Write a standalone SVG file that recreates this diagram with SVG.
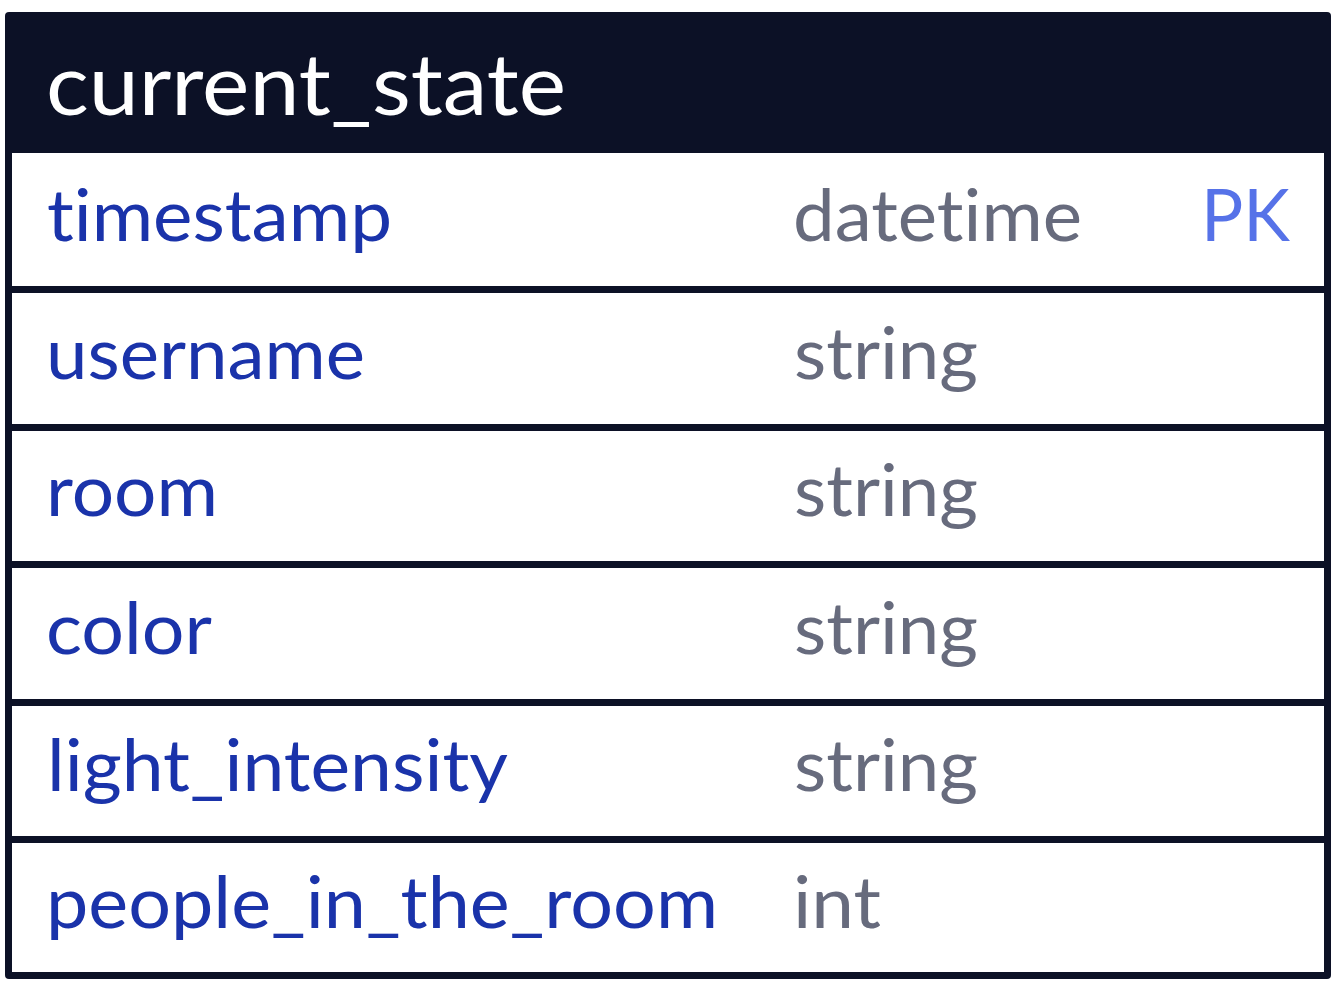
<svg xmlns="http://www.w3.org/2000/svg" width="1336" height="983" viewBox="0 0 1336 983">
<style>
.frame{fill:#0c1126}
.cell{fill:#ffffff}
text{font-family:"Lato","Noto Sans",sans-serif;font-variant-ligatures:none;font-feature-settings:"liga" 0,"clig" 0}
.title{font-size:86px;fill:#ffffff}
.name{font-size:72px;fill:#1a33aa}
.type{font-size:72px;fill:#676b7d}
.key{font-size:72px;fill:#5672e8}
</style>
<g id="table-current_state">
<rect class="frame" x="5" y="12" width="1326" height="967" rx="4"/>
<text class="title" x="46" y="115" textLength="520" lengthAdjust="spacingAndGlyphs">current_state</text>
</g>
<g id="row-timestamp">
<rect class="cell" x="12" y="153" width="1312" height="133"/>
<text class="name" x="47" y="241" textLength="345" lengthAdjust="spacingAndGlyphs">timestamp</text>
<text class="type" x="793" y="241" textLength="289" lengthAdjust="spacingAndGlyphs">datetime</text>
<text class="key" x="1201" y="241" textLength="89" lengthAdjust="spacingAndGlyphs">PK</text>
</g>
<g id="row-username">
<rect class="cell" x="12" y="293" width="1312" height="131"/>
<text class="name" x="46" y="379" textLength="319" lengthAdjust="spacingAndGlyphs">username</text>
<text class="type" x="794" y="379" textLength="184" lengthAdjust="spacingAndGlyphs">string</text>
</g>
<g id="row-room">
<rect class="cell" x="12" y="431" width="1312" height="130"/>
<text class="name" x="46" y="516" textLength="172" lengthAdjust="spacingAndGlyphs">room</text>
<text class="type" x="794" y="516" textLength="184" lengthAdjust="spacingAndGlyphs">string</text>
</g>
<g id="row-color">
<rect class="cell" x="12" y="568" width="1312" height="131"/>
<text class="name" x="46" y="654" textLength="166" lengthAdjust="spacingAndGlyphs">color</text>
<text class="type" x="794" y="654" textLength="184" lengthAdjust="spacingAndGlyphs">string</text>
</g>
<g id="row-light_intensity">
<rect class="cell" x="12" y="706" width="1312" height="130"/>
<text class="name" x="47" y="791" textLength="461" lengthAdjust="spacingAndGlyphs">light_intensity</text>
<text class="type" x="794" y="791" textLength="184" lengthAdjust="spacingAndGlyphs">string</text>
</g>
<g id="row-people_in_the_room">
<rect class="cell" x="12" y="843" width="1312" height="129"/>
<text class="name" x="46" y="928" textLength="672" lengthAdjust="spacingAndGlyphs">people_in_the_room</text>
<text class="type" x="793" y="928" textLength="88" lengthAdjust="spacingAndGlyphs">int</text>
</g>
<g id="connectors"/>
</svg>
